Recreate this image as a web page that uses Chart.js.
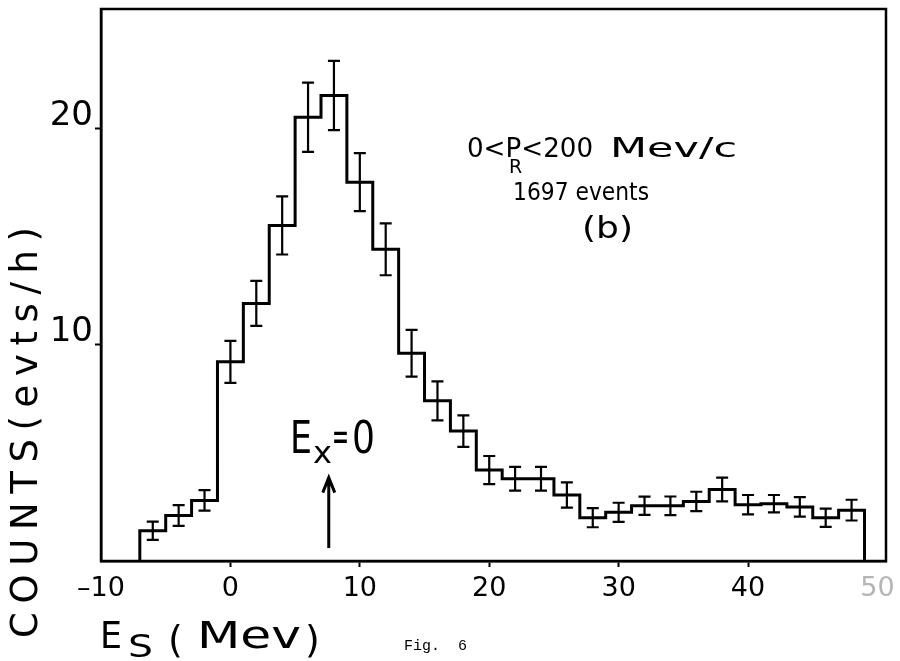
<!DOCTYPE html>
<html>
<head>
<meta charset="utf-8">
<script src="https://cdn.jsdelivr.net/npm/chart.js@4.4.1/dist/chart.umd.min.js"></script>
<style>
  html, body { margin: 0; padding: 0; background: #fff; }
  #wrap { width: 900px; height: 661px; }
</style>
</head>
<body>
<div id="wrap"><canvas id="spectrum" width="900" height="661"></canvas></div>
<script>
// Es spectrum, 0 < P_R < 200 MeV/c, 2 MeV bins
const binCenters = [-6, -4, -2, 0, 2, 4, 6, 8, 10, 12, 14, 16, 18, 20,
                    22, 24, 26, 28, 30, 32, 34, 36, 38, 40, 42, 44, 46, 48];
const counts = [1.4, 2.1, 2.8, 9.2, 11.9, 15.5, 20.5, 21.5, 17.5, 14.4, 9.6, 7.4, 6.0, 4.2,
                3.8, 3.8, 3.05, 2.0, 2.25, 2.55, 2.55, 2.75, 3.3, 2.6, 2.65, 2.5, 2.0, 2.35];
const errors = [0.42, 0.48, 0.47, 0.97, 1.04, 1.34, 1.6, 1.6, 1.34, 1.2, 1.08, 0.9, 0.73, 0.65,
                0.55, 0.55, 0.58, 0.44, 0.44, 0.42, 0.43, 0.45, 0.55, 0.45, 0.4, 0.45, 0.42, 0.48];
const xTicks = [-10, 0, 10, 20, 30, 40, 50];
const yTicks = [10, 20];
const arrowAt = 7.6; // E_x = 0 marker (MeV)

const binWidth = binCenters[1] - binCenters[0];
const FONT = '"DejaVu Sans", sans-serif';

// step outline built from the bin centres
const steps = [{ x: binCenters[0] - binWidth / 2, y: 0 }];
binCenters.forEach((c, i) => steps.push({ x: c - binWidth / 2, y: counts[i] }));
const lastEdge = binCenters[binCenters.length - 1] + binWidth / 2;
steps.push({ x: lastEdge, y: counts[counts.length - 1] });
steps.push({ x: lastEdge, y: 0 });

// letter-spaced text filling a width
function spread(ctx, text, x, y, width) {
  const chars = text.split('');
  const natural = chars.reduce((s, ch) => s + ctx.measureText(ch).width, 0);
  const gap = chars.length > 1 ? (width - natural) / (chars.length - 1) : 0;
  let cx = x;
  chars.forEach(ch => {
    ctx.fillText(ch, cx, y);
    cx += ctx.measureText(ch).width + gap;
  });
}

// text stretched (or squeezed) horizontally to a width, like lettering-guide text
function fit(ctx, text, x, y, width) {
  const k = width / ctx.measureText(text).width;
  ctx.save();
  ctx.translate(x, y);
  ctx.scale(k, 1);
  ctx.fillText(text, 0, 0);
  ctx.restore();
}

const extras = {
  id: 'extras',
  afterDatasetsDraw(chart) {
    const ctx = chart.ctx;
    const xs = chart.scales.x, ys = chart.scales.y;
    const area = chart.chartArea;
    ctx.save();

    // frame
    ctx.strokeStyle = '#000';
    ctx.lineWidth = 2.5;
    ctx.strokeRect(area.left, area.top, area.right - area.left, area.bottom - area.top);

    // error bars
    binCenters.forEach((c, i) => {
      const px = xs.getPixelForValue(c);
      const top = ys.getPixelForValue(counts[i] + errors[i]);
      const bot = ys.getPixelForValue(counts[i] - errors[i]);
      ctx.lineWidth = 2.2;
      ctx.beginPath();
      ctx.moveTo(px, top); ctx.lineTo(px, bot);
      ctx.moveTo(px - 6, top); ctx.lineTo(px + 6, top);
      ctx.moveTo(px - 6, bot); ctx.lineTo(px + 6, bot);
      ctx.stroke();
    });

    // arrow at E_x = 0
    const ax = xs.getPixelForValue(arrowAt);
    const aTop = ys.getPixelForValue(3.85);
    const aBot = ys.getPixelForValue(0.6);
    ctx.lineWidth = 3;
    ctx.beginPath();
    ctx.moveTo(ax, aBot); ctx.lineTo(ax, aTop);
    ctx.moveTo(ax - 6, aTop + 15); ctx.lineTo(ax, aTop); ctx.lineTo(ax + 6, aTop + 15);
    ctx.stroke();

    ctx.fillStyle = '#000';
    ctx.textBaseline = 'alphabetic';
    ctx.textAlign = 'left';

    // E_x=0
    ctx.font = '44px ' + FONT;
    fit(ctx, 'E', 290, 453, 22);
    ctx.font = '30px ' + FONT;
    fit(ctx, 'x', 313, 463, 19);
    ctx.font = '40px ' + FONT;
    fit(ctx, '=', 332, 450, 17);
    ctx.font = '44px ' + FONT;
    fit(ctx, '0', 352, 453, 23);

    // momentum cut
    ctx.font = '27px ' + FONT;
    fit(ctx, '0<P<200', 467, 157, 126);
    ctx.font = '26px ' + FONT;
    fit(ctx, 'Mev/c', 610, 157, 127);
    ctx.font = '19px ' + FONT;
    ctx.fillText('R', 509, 173);

    ctx.font = '24px ' + FONT;
    fit(ctx, '1697 events', 513, 200, 136);
    ctx.font = '31px ' + FONT;
    fit(ctx, '(b)', 582, 238, 51);

    // axis titles
    ctx.font = '37px ' + FONT;
    fit(ctx, 'E', 100, 648, 22);
    ctx.font = '32px ' + FONT;
    fit(ctx, 'S', 128, 657, 25);
    ctx.font = '38px ' + FONT;
    ctx.fillText('(', 168, 652);
    fit(ctx, 'Mev', 197, 648, 104);
    ctx.fillText(')', 305, 652);

    ctx.save();
    ctx.translate(37, 638);
    ctx.rotate(-Math.PI / 2);
    ctx.font = '37px ' + FONT;
    spread(ctx, 'COUNTS(evts/h)', 0, 0, 411);
    ctx.restore();

    ctx.font = '15px "Liberation Mono", monospace';
    ctx.fillText('Fig.  6', 404, 650);

    ctx.restore();
  }
};

new Chart(document.getElementById('spectrum'), {
  type: 'line',
  data: {
    datasets: [{
      label: 'COUNTS',
      data: steps,
      stepped: true,
      borderColor: '#000',
      borderWidth: 3,
      pointRadius: 0,
      fill: false
    }]
  },
  options: {
    responsive: false,
    animation: false,
    devicePixelRatio: 1,
    layout: { padding: { top: 9, right: 14, left: 0, bottom: 0 } },
    plugins: { legend: { display: false }, tooltip: { enabled: false } },
    scales: {
      x: {
        type: 'linear',
        min: -10,
        max: 50.66,
        afterFit(scale) { scale.height = 100; scale.paddingLeft = 0; scale.paddingRight = 0; },
        afterBuildTicks(scale) { scale.ticks = xTicks.map(v => ({ value: v })); },
        border: { display: true, color: '#000', width: 2.5 },
        grid: {
          drawOnChartArea: false,
          drawTicks: true,
          tickLength: 6,
          tickWidth: 2,
          color: ctx => (ctx.tick && ctx.tick.value > -10 && ctx.tick.value < 50) ? '#000' : 'rgba(0,0,0,0)'
        },
        ticks: {
          padding: 6,
          color: ctx => ctx.tick && ctx.tick.value === 50 ? '#b5b5b5' : '#000',
          font: { family: FONT, size: 27 },
          callback: v => (v < 0 ? '\u2013' + Math.abs(v) : String(v))
        }
      },
      y: {
        type: 'linear',
        min: 0,
        max: 25.5,
        afterFit(scale) { scale.width = 101; scale.paddingTop = 0; scale.paddingBottom = 0; },
        afterBuildTicks(scale) { scale.ticks = yTicks.map(v => ({ value: v })); },
        border: { display: true, color: '#000', width: 2.5 },
        grid: {
          drawOnChartArea: false,
          drawTicks: true,
          tickLength: 6,
          tickWidth: 2,
          color: '#000'
        },
        ticks: {
          padding: 2,
          labelOffset: -12,
          color: '#000',
          font: { family: FONT, size: 34 }
        }
      }
    }
  },
  plugins: [extras]
});
</script>
</body>
</html>
